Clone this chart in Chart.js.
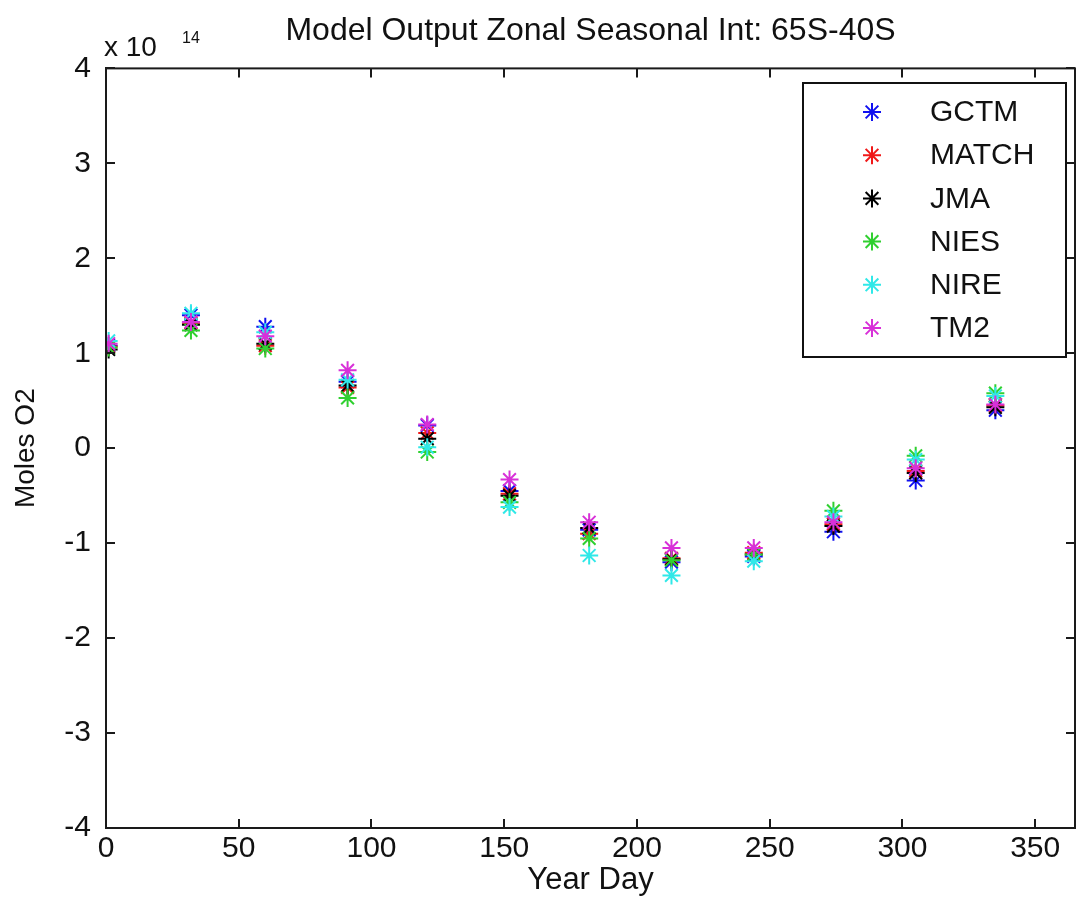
<!DOCTYPE html>
<html>
<head>
<meta charset="utf-8">
<title>Model Output Zonal Seasonal Int: 65S-40S</title>
<script src="https://cdn.jsdelivr.net/npm/chart.js@4/dist/chart.umd.min.js"></script>
<style>
  html, body { margin: 0; padding: 0; background: #fff; }
  #wrap { width: 1080px; height: 924px; }
</style>
</head>
<body>
<div id="wrap"><canvas id="chart" width="1080" height="924"></canvas></div>
<script>
// ── Dados (unidades de 1e14 moles O2) ─────────────────────────────────────────
const yearDays = [1, 32, 60, 91, 121, 152, 182, 213, 244, 274, 305, 335];

const gctm  = [1.08, 1.40, 1.28, 0.70, 0.24, -0.45, -0.86, -1.20, -1.14, -0.88, -0.34, 0.40];
const match = [1.07, 1.32, 1.08, 0.64, 0.16, -0.48, -0.90, -1.16, -1.10, -0.80, -0.24, 0.45];
const jma   = [1.04, 1.30, 1.10, 0.66, 0.10, -0.50, -0.84, -1.17, -1.12, -0.82, -0.26, 0.43];
const nies  = [1.06, 1.24, 1.05, 0.53, -0.04, -0.57, -0.95, -1.18, -1.12, -0.66, -0.08, 0.58];
const nire  = [1.13, 1.42, 1.22, 0.72, 0.01, -0.62, -1.13, -1.34, -1.19, -0.72, -0.12, 0.55];
const tm2   = [1.10, 1.33, 1.18, 0.82, 0.25, -0.33, -0.78, -1.05, -1.05, -0.78, -0.21, 0.46];

const modelNames  = ['GCTM', 'MATCH', 'JMA', 'NIES', 'NIRE', 'TM2'];
const modelSeries = [gctm, match, jma, nies, nire, tm2];
const modelColors = ['#1010f0', '#f01818', '#000000', '#30d030', '#30e8e8', '#d830d8'];

const xTicks = [0, 50, 100, 150, 200, 250, 300, 350];
const yTicks = [-4, -3, -2, -1, 0, 1, 2, 3, 4];

const FONT = '"Liberation Sans", Arial, sans-serif';

// ── Datasets ──────────────────────────────────────────────────────────────────
const datasets = modelNames.map((name, i) => ({
  label: name,
  data: yearDays.map((d, j) => ({ x: d, y: modelSeries[i][j] })),
  pointStyle: 'star',
  pointRadius: 9,
  pointBorderWidth: 2,
  borderColor: modelColors[i],
  backgroundColor: modelColors[i],
  showLine: false,
  order: modelNames.length - i,   // TM2 por cima, como no MATLAB
}));

// ── Plugin: caixa, ticks internos, expoente e legenda ────────────────────────
const matlabFrame = {
  id: 'matlabFrame',
  afterDraw(chart) {
    const { ctx, chartArea: a, scales: { x, y } } = chart;
    const tl = 9;
    ctx.save();
    ctx.strokeStyle = '#1a1a1a';
    ctx.lineWidth = 2;
    ctx.strokeRect(a.left, a.top, a.right - a.left, a.bottom - a.top);

    ctx.beginPath();
    xTicks.forEach(v => {
      const px = Math.round(x.getPixelForValue(v));
      ctx.moveTo(px, a.bottom); ctx.lineTo(px, a.bottom - tl);
      ctx.moveTo(px, a.top);    ctx.lineTo(px, a.top + tl);
    });
    yTicks.forEach(v => {
      const py = Math.round(y.getPixelForValue(v));
      ctx.moveTo(a.left, py);  ctx.lineTo(a.left + tl, py);
      ctx.moveTo(a.right, py); ctx.lineTo(a.right - tl, py);
    });
    ctx.stroke();

    // multiplicador do eixo y
    ctx.fillStyle = '#111';
    ctx.textBaseline = 'alphabetic';
    ctx.textAlign = 'left';
    ctx.font = `28px ${FONT}`;
    ctx.fillText('x 10', 104, 56);
    ctx.font = `16px ${FONT}`;
    ctx.fillText('14', 182, 43);

    // legenda
    const lg = { left: 803, top: 83, right: 1066, bottom: 357 };
    ctx.fillStyle = '#fff';
    ctx.fillRect(lg.left, lg.top, lg.right - lg.left, lg.bottom - lg.top);
    ctx.strokeStyle = '#111';
    ctx.lineWidth = 2;
    ctx.strokeRect(lg.left, lg.top, lg.right - lg.left, lg.bottom - lg.top);

    modelNames.forEach((name, i) => {
      const cy = 112 + i * 43.2;
      const ds = chart.data.datasets[i];
      ctx.strokeStyle = ds.borderColor;
      ctx.fillStyle = ds.backgroundColor;
      ctx.lineWidth = 2;
      Chart.helpers.drawPoint(ctx, { pointStyle: 'star', radius: 9, borderWidth: 2, rotation: 0 }, 872, cy);
      ctx.fillStyle = '#111';
      ctx.font = `30px ${FONT}`;
      ctx.textBaseline = 'middle';
      ctx.textAlign = 'left';
      ctx.fillText(name, 930, cy + 1);
    });
    ctx.restore();
  },
};

// ── Gráfico ───────────────────────────────────────────────────────────────────
new Chart(document.getElementById('chart'), {
  type: 'scatter',
  data: { datasets },
  plugins: [matlabFrame],
  options: {
    responsive: false,
    animation: false,
    devicePixelRatio: 1,
    layout: { autoPadding: false, padding: { left: 0, right: 5, top: 0, bottom: 0 } },
    plugins: {
      legend: { display: false },
      tooltip: { enabled: false },
      title: {
        display: true,
        fullSize: false,
        text: 'Model Output Zonal Seasonal Int: 65S-40S',
        color: '#111',
        font: { family: FONT, size: 32, weight: 'normal' },
        padding: { top: 12, bottom: 18 },
      },
    },
    scales: {
      x: {
        type: 'linear',
        min: 0,
        max: 365,
        afterFit: s => { s.height = 96; },
        afterBuildTicks: s => { s.ticks = xTicks.map(v => ({ value: v })); },
        grid: { display: false, drawTicks: false },
        border: { display: true, color: '#1a1a1a', width: 2 },
        ticks: {
          color: '#111', padding: 3, maxRotation: 0, autoSkip: false,
          font: { family: FONT, size: 30 },
        },
        title: {
          display: true, text: 'Year Day', color: '#111',
          font: { family: FONT, size: 31 },
          padding: { top: 0, bottom: 25 },
        },
      },
      y: {
        type: 'linear',
        min: -4,
        max: 4,
        afterFit: s => { s.width = 106; },
        afterBuildTicks: s => { s.ticks = yTicks.map(v => ({ value: v })); },
        grid: { display: false, drawTicks: false },
        border: { display: true, color: '#1a1a1a', width: 2 },
        ticks: {
          color: '#111', padding: 15, autoSkip: false,
          font: { family: FONT, size: 30 },
        },
        title: {
          display: true, text: 'Moles O2', color: '#111',
          font: { family: FONT, size: 28 },
          padding: { top: 9, bottom: 0 },
        },
      },
    },
  },
});
</script>
</body>
</html>
